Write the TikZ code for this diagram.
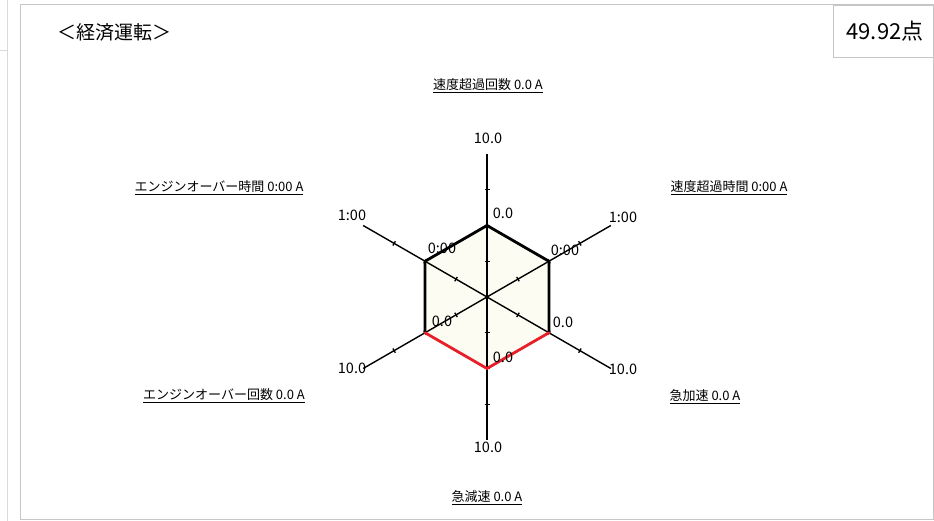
\documentclass[tikz,border=0pt]{standalone}
\usepackage{fontspec}
\setmainfont{Noto Sans CJK JP}
\usetikzlibrary{positioning}

\definecolor{hexfill}{RGB}{252,252,243}
\definecolor{lowred}{RGB}{232,30,40}

\tikzset{
  axisline/.style={color=black, line width=1.4pt},
  tickline/.style={color=black, line width=1.3pt},
  hexline/.style={color=black, line width=2.8pt, line cap=round},
  lowline/.style={color=lowred, line width=2.8pt, line cap=round},
  valtext/.style={font=\fontsize{14.5}{16}\selectfont, inner sep=0pt},
  cattext/.style={font=\fontsize{13}{15}\selectfont, inner sep=0pt},
  frameline/.style={color=gray!45, line width=0.8pt}
}

\begin{document}
\begin{tikzpicture}[x=1pt, y=1pt]
\useasboundingbox (-487,-224) rectangle (447,297);

\draw[frameline] (-467,-222) rectangle (446,293);
\draw[frameline, color=gray!30] (-480,-224) -- (-480,297);
\draw[frameline, color=gray!30] (-487,247) -- (-480,247);

\node[font=\fontsize{19}{21}\selectfont] (title) at (-372,265) {＜経済運転＞};
\draw[frameline] (346,240) rectangle (455,292);
\node[font=\fontsize{22}{24}\selectfont] (score) at (398,266) {49.92点};

\coordinate (c) at (0,0);
\foreach \i/\a in {1/90,2/30,3/-30,4/-90,5/-150,6/150} {
  \coordinate (e\i) at (\a:143);
  \coordinate (h\i) at (\a:71.5);
}

\fill[hexfill] (h1) -- (h2) -- (h3) -- (h4) -- (h5) -- (h6) -- cycle;

\foreach \i in {1,...,6}
  \draw[axisline] (c) -- (e\i);
\foreach \a in {90,30,-30,-90,-150,150}
  \foreach \r in {35.75,71.5,107.25}
    \draw[tickline, rotate=\a] (\r,-2.5) -- (\r,2.5);

\draw[hexline] (h5) -- (h6) -- (h1) -- (h2) -- (h3);
\draw[lowline] (h3) -- (h4) -- (h5);

\node[valtext] (e1val) at (1,159) {10.0};
\node[valtext] (h1val) at (16,84) {0.0};
\node[valtext] (e2val) at (136,80) {1:00};
\node[valtext] (h2val) at (78,47) {0:00};
\node[valtext] (h3val) at (76,-25) {0.0};
\node[valtext] (e3val) at (136,-72) {10.0};
\node[valtext] (h4val) at (16,-60) {0.0};
\node[valtext] (e4val) at (1,-150) {10.0};
\node[valtext] (h5val) at (-45,-24) {0.0};
\node[valtext] (e5val) at (-135,-71) {10.0};
\node[valtext] (e6val) at (-135,82) {1:00};
\node[valtext] (h6val) at (-45,49) {0:00};

\node[cattext] (cat1) at (1,211) {\underline{速度超過回数 0.0 A}};
\node[cattext] (cat2) at (242,109) {\underline{速度超過時間 0:00 A}};
\node[cattext] (cat3) at (218,-100) {\underline{急加速 0.0 A}};
\node[cattext] (cat4) at (0,-201) {\underline{急減速 0.0 A}};
\node[cattext] (cat5) at (-263,-99) {\underline{エンジンオーバー回数 0.0 A}};
\node[cattext] (cat6) at (-268,109) {\underline{エンジンオーバー時間 0:00 A}};

\end{tikzpicture}
\end{document}
